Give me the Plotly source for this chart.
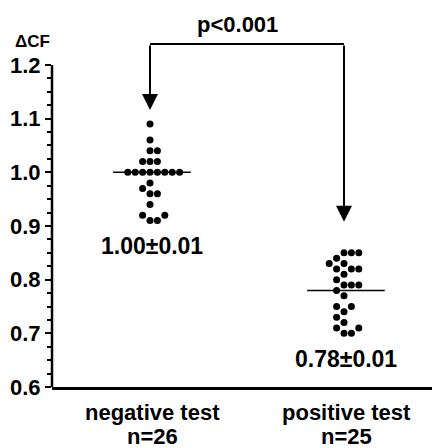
import plotly.graph_objects as go
from collections import Counter

# ---- data ----
groups = ["negative test", "positive test"]
group_n = [26, 25]
negative_vals = [1.09, 1.06, 1.04, 1.04, 1.02, 1.02, 1.02,
                 1.00, 1.00, 1.00, 1.00, 1.00, 1.00, 1.00, 1.00,
                 0.98, 0.97, 0.96, 0.96, 0.94, 0.92, 0.92, 0.91, 0.91]
positive_vals = [0.85, 0.85, 0.85, 0.84, 0.83, 0.83, 0.82, 0.82, 0.82,
                 0.81, 0.80, 0.79, 0.79, 0.79, 0.78, 0.77, 0.75, 0.75,
                 0.74, 0.73, 0.72, 0.71, 0.71, 0.70, 0.70]
group_means = [1.00, 0.78]
group_sem = [0.01, 0.01]
p_text = "p<0.001"
y_ticks = [0.6, 0.7, 0.8, 0.9, 1.0, 1.1, 1.2]

# ---- layout constants (pixels -> axis units) ----
W, H = 437, 448
ML, MR, MT, MB = 52, 5, 0, 61
PX_PER_X = 194.0
PX_PER_Y = 536.7
x_lo = -(150 - ML) / PX_PER_X
x_hi = x_lo + (W - ML - MR) / PX_PER_X
y_lo = y_ticks[0]
y_hi = y_lo + (H - MT - MB) / PX_PER_Y
col_step = 7.4 / PX_PER_X
FONT = "Arial, Liberation Sans, Helvetica, sans-serif"


def swarm_slots(values, tol=0.0105):
    counts = Counter(values)
    placed = []
    slots = [0] * len(values)
    for i in sorted(range(len(values)), key=lambda k: values[k]):
        v = values[i]
        if counts[v] > 1:
            cand = [0, 1, -1, 2, -2, 3, -3, 4, -4, 5, -5, 6, -6]
        else:
            cand = [0, -1, 1, -2, 2, -3, 3, -4, 4]
        for s in cand:
            if all(not (ps == s and abs(pv - v) < tol) for pv, ps in placed):
                placed.append((v, s))
                slots[i] = s
                break
    return slots


def bold(size):
    return dict(family=FONT, size=size, color="black", weight=700)


fig = go.Figure()
for gi, vals in enumerate([negative_vals, positive_vals]):
    slots = swarm_slots(vals)
    fig.add_trace(go.Scatter(
        x=[gi + s * col_step for s in slots], y=vals, mode="markers",
        marker=dict(color="black", size=7, line=dict(width=0)),
        showlegend=False, hoverinfo="skip", cliponaxis=False))
    # mean line
    fig.add_shape(type="line", xref="x", yref="y",
                  x0=gi - 0.19, x1=gi + 0.21, y0=group_means[gi], y1=group_means[gi],
                  line=dict(color="black", width=1.5))
    # mean +- sem label
    fig.add_annotation(x=gi + 0.01, y=min(vals) - 0.047, xref="x", yref="y",
                       text=f"{group_means[gi]:.2f}±{group_sem[gi]:.2f}",
                       showarrow=False, font=bold(23))
    # category labels
    fig.add_annotation(x=gi + 0.015, y=0, xref="x", yref="paper", yanchor="middle",
                       yshift=-25, text=groups[gi], showarrow=False, font=bold(22))
    fig.add_annotation(x=gi + 0.015, y=0, xref="x", yref="paper", yanchor="middle",
                       yshift=-49, text=f"n={group_n[gi]}", showarrow=False, font=bold(22))

# y axis line only from 0.6 to 1.2
fig.add_shape(type="line", xref="paper", yref="y", x0=0, x1=0,
              y0=y_ticks[0], y1=y_ticks[-1], line=dict(color="black", width=2.5))

# significance bracket
bracket_y = y_ticks[-1] + 21 / PX_PER_Y
fig.add_shape(type="line", xref="x", yref="y", x0=0, x1=1, y0=bracket_y, y1=bracket_y,
              line=dict(color="black", width=2))
tips = [max(negative_vals) + 0.026, max(positive_vals) + 0.058]
for gi, tip in enumerate(tips):
    fig.add_annotation(x=gi, y=tip, ax=gi, ay=bracket_y, xref="x", yref="y",
                       axref="x", ayref="y", text="", showarrow=True,
                       arrowhead=2, arrowwidth=2, arrowsize=1.6, arrowcolor="black")
fig.add_annotation(x=0.45, y=bracket_y + 19 / PX_PER_Y, xref="x", yref="y",
                   text=p_text, showarrow=False, font=bold(22))

# axis title
fig.add_annotation(x=-20 / (W - ML - MR), y=y_ticks[-1] + 23 / PX_PER_Y,
                   xref="paper", yref="y", xanchor="center", yanchor="middle",
                   text="ΔCF", showarrow=False, font=bold(17))

minor_vals = [round(y_ticks[0] + 0.025 * k, 3) for k in range(25) if k % 4 != 0]

fig.update_layout(
    width=W, height=H, margin=dict(l=ML, r=MR, t=MT, b=MB),
    paper_bgcolor="white", plot_bgcolor="white",
    font=dict(family=FONT, color="black"),
    xaxis=dict(range=[x_lo, x_hi], showgrid=False, zeroline=False,
               showline=True, linecolor="black", linewidth=2.5,
               showticklabels=False, ticks=""),
    yaxis=dict(range=[y_lo, y_hi], showgrid=False, zeroline=False, showline=False,
               tickmode="array", tickvals=y_ticks, ticktext=[f"{t:.1f}" for t in y_ticks],
               ticks="outside", ticklen=6, tickwidth=2, tickcolor="black",
               tickfont=bold(22),
               minor=dict(tickmode="array", tickvals=minor_vals, ticks="outside",
                          ticklen=4, tickwidth=2, tickcolor="black")),
)

fig.write_html("out.html", config={"displayModeBar": False},
               post_script="document.body.style.margin='0';")
